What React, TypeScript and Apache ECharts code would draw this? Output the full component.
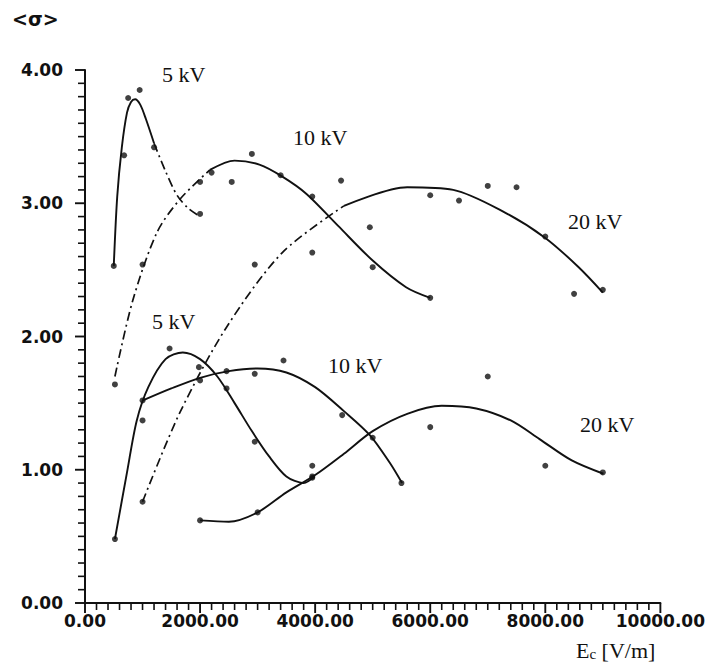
import React, { useEffect, useRef } from "react";
import * as echarts from "echarts";

// ---- data ----
// Upper group (fitted curves + measured points)
const up5Curve: number[][] = [[500, 2.53], [560, 3.05], [640, 3.42], [730, 3.68], [800, 3.76], [870, 3.78], [960, 3.74], [1060, 3.63], [1200, 3.45], [1400, 3.24], [1600, 3.06], [1800, 2.96], [2000, 2.9]];
const up5Split = 8; // index where the dash-dot part begins
const up5Points: number[][] = [[500, 2.53], [680, 3.36], [750, 3.79], [950, 3.85], [1200, 3.42], [2000, 2.92]];

const up10Curve: number[][] = [[520, 1.7], [830, 2.27], [1250, 2.78], [1650, 3.03], [2170, 3.25], [2600, 3.32], [3030, 3.29], [3430, 3.2], [3850, 3.07], [4400, 2.83], [5000, 2.57], [5580, 2.37], [6000, 2.29]];
const up10Split = 4; // dash-dot before this index
const up10Points: number[][] = [[520, 1.64], [1000, 2.54], [2000, 3.16], [2200, 3.23], [2550, 3.16], [2900, 3.37], [3400, 3.21], [3950, 3.05], [4450, 3.17], [5000, 2.52], [6000, 2.29]];

const up20Curve: number[][] = [[1000, 0.76], [1650, 1.43], [2460, 2.07], [3430, 2.63], [4500, 2.98], [5600, 3.12], [6400, 3.1], [7300, 2.93], [8000, 2.74], [8580, 2.52], [9000, 2.33]];
const up20Split = 4;
const up20Points: number[][] = [[1000, 0.76], [2950, 2.54], [3950, 2.63], [4950, 2.82], [6000, 3.06], [6500, 3.02], [7000, 3.13], [7500, 3.12], [8000, 2.75], [8500, 2.32], [9000, 2.35]];

// Lower group
const lo5Curve: number[][] = [[520, 0.48], [730, 0.98], [900, 1.37], [1100, 1.62], [1400, 1.83], [1700, 1.88], [2000, 1.83], [2300, 1.7], [2600, 1.5], [2900, 1.29], [3200, 1.1], [3500, 0.95], [3800, 0.9], [3990, 0.95]];
const lo5Points: number[][] = [[520, 0.48], [1000, 1.37], [1470, 1.91], [1980, 1.77], [2460, 1.61], [2950, 1.21], [3950, 0.95]];

const lo10Curve: number[][] = [[1005, 1.52], [1500, 1.61], [2000, 1.69], [2500, 1.74], [3000, 1.76], [3500, 1.73], [4000, 1.62], [4500, 1.44], [4950, 1.26], [5300, 1.05], [5510, 0.9]];
const lo10Points: number[][] = [[1000, 1.52], [2000, 1.67], [2460, 1.74], [2950, 1.72], [3450, 1.82], [4470, 1.41], [5000, 1.24], [5500, 0.9]];

const lo20Curve: number[][] = [[2000, 0.62], [2500, 0.61], [3000, 0.68], [3500, 0.83], [4000, 0.96], [4500, 1.12], [5000, 1.29], [5600, 1.42], [6200, 1.48], [6800, 1.46], [7400, 1.37], [7900, 1.23], [8460, 1.07], [9010, 0.97]];
const lo20Points: number[][] = [[2000, 0.62], [3000, 0.68], [3950, 0.94], [3950, 1.03], [6000, 1.32], [7000, 1.7], [8000, 1.03], [9000, 0.98]];

const curveLabels = ["5 kV", "10 kV", "20 kV", "5 kV", "10 kV", "20 kV"];
const xAxisTitle = "E";
const xAxisSub = "c";
const xAxisUnit = " [V/m]";
const yAxisTitle = "<σ>";

// axis scale: major and minor tick steps
const X_MAX = 10000;
const X_MAJOR = 2000;
const X_MINOR = 200;
const Y_MAX = 4;
const Y_MAJOR = 1;
const Y_MINOR = 0.1;

const BLACK = "#111";
const DASHDOT = [9, 4, 2, 4];

function curveSeries(data: number[][], dashed?: "before" | "after", split?: number) {
  const solid = { color: BLACK, width: 1.9, type: "solid" as any };
  const dash = { color: BLACK, width: 1.7, type: DASHDOT as any };
  const base = { type: "line", smooth: 0.3, showSymbol: false, silent: true, z: 2 };
  if (!dashed || split === undefined) {
    return [{ ...base, data, lineStyle: solid }];
  }
  const a = data.slice(0, split + 1);
  const b = data.slice(split);
  return [
    { ...base, data: a, lineStyle: dashed === "before" ? dash : solid },
    { ...base, data: b, lineStyle: dashed === "after" ? dash : solid },
  ];
}

function pointSeries(data: number[][]) {
  return {
    type: "scatter",
    data,
    symbol: "circle",
    symbolSize: 6,
    itemStyle: { color: BLACK },
    z: 3,
    silent: true,
  };
}

// tick marks drawn through the axes' own coordinate mapping
function tickSeries(axis: "x" | "y") {
  const data: number[][] = [];
  if (axis === "x") {
    const n = Math.round(X_MAX / X_MINOR);
    for (let i = 0; i <= n; i++) {
      const v = i * X_MINOR;
      data.push([v, 0, i % (X_MAJOR / X_MINOR) === 0 ? 1 : 0]);
    }
  } else {
    const n = Math.round(Y_MAX / Y_MINOR);
    for (let i = 0; i <= n; i++) {
      const v = Math.round(i * Y_MINOR * 10) / 10;
      data.push([0, v, i % Math.round(Y_MAJOR / Y_MINOR) === 0 ? 1 : 0]);
    }
  }
  return {
    type: "custom",
    silent: true,
    clip: false,
    z: 5,
    data,
    renderItem: (_params: any, api: any) => {
      const p = api.coord([api.value(0), api.value(1)]);
      const len = api.value(2) ? 10 : 7;
      const shape =
        axis === "x"
          ? { x1: p[0], y1: p[1], x2: p[0], y2: p[1] + len }
          : { x1: p[0], y1: p[1], x2: p[0] - len, y2: p[1] };
      return { type: "line", shape, style: { stroke: BLACK, lineWidth: api.value(2) ? 1.9 : 1.6 } };
    },
  };
}

const tickLabelStyle = {
  color: BLACK,
  fontFamily: "DejaVu Sans",
  fontWeight: "bold",
  fontSize: 17,
};

export default function App() {
  const ref = useRef<HTMLDivElement>(null);
  useEffect(() => {
    if (!ref.current) return;
    const chart = echarts.init(ref.current, undefined, { renderer: "svg" });
    const labelFont = { fontFamily: "Liberation Serif", fontSize: 22, fill: BLACK };
    const labelPos = [
      [162, 63], [293, 126], [568, 210], [152, 310], [328, 354], [580, 413],
    ];
    chart.setOption({
      animation: false,
      backgroundColor: "#fff",
      grid: { left: 85, right: 46, top: 70, bottom: 63, containLabel: false },
      xAxis: {
        type: "value",
        min: 0,
        max: X_MAX,
        interval: X_MAJOR,
        axisLine: { show: true, lineStyle: { color: BLACK, width: 2 } },
        axisTick: { show: false },
        splitLine: { show: false },
        axisLabel: { ...tickLabelStyle, formatter: (v: number) => v.toFixed(2), margin: 9 },
      },
      yAxis: {
        type: "value",
        min: 0,
        max: Y_MAX,
        interval: Y_MAJOR,
        axisLine: { show: true, lineStyle: { color: BLACK, width: 2 } },
        axisTick: { show: false },
        splitLine: { show: false },
        axisLabel: { ...tickLabelStyle, formatter: (v: number) => v.toFixed(2), margin: 22 },
      },
      graphic: [
        {
          type: "text",
          left: 12,
          top: 9,
          style: { text: yAxisTitle, fontFamily: "DejaVu Sans", fontWeight: "bold", fontSize: 19, fill: BLACK },
        },
        {
          type: "text",
          left: 576,
          top: 639,
          style: {
            text: `{e|${xAxisTitle}}{s|${xAxisSub}}{e|${xAxisUnit}}`,
            rich: {
              e: { fontFamily: "Liberation Serif", fontSize: 22, fill: BLACK, color: BLACK },
              s: { fontFamily: "Liberation Serif", fontSize: 15, fill: BLACK, color: BLACK, padding: [8, 0, 0, 0] },
            },
          },
        },
        ...curveLabels.map((t, i) => ({
          type: "text",
          left: labelPos[i][0],
          top: labelPos[i][1],
          style: { text: t, ...labelFont },
        })),
      ],
      series: [
        tickSeries("x"),
        tickSeries("y"),
        ...curveSeries(up5Curve, "after", up5Split),
        ...curveSeries(up10Curve, "before", up10Split),
        ...curveSeries(up20Curve, "before", up20Split),
        ...curveSeries(lo5Curve),
        ...curveSeries(lo10Curve),
        ...curveSeries(lo20Curve),
        pointSeries(up5Points),
        pointSeries(up10Points),
        pointSeries(up20Points),
        pointSeries(lo5Points),
        pointSeries(lo10Points),
        pointSeries(lo20Points),
      ],
    });
    return () => chart.dispose();
  }, []);
  return (
    <div
      ref={ref}
      style={{ position: "fixed", left: 0, top: 0, width: 708, height: 666, background: "#fff" }}
    />
  );
}
